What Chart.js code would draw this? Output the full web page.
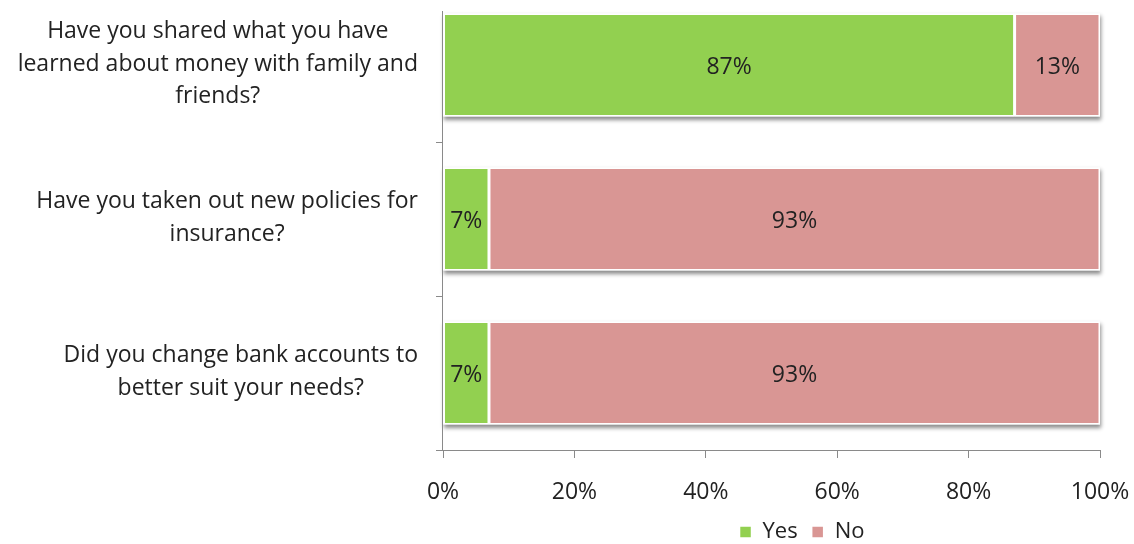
<!DOCTYPE html>
<html>
<head>
<meta charset="utf-8">
<script src="https://cdn.jsdelivr.net/npm/chart.js@4.4.1/dist/chart.umd.min.js"></script>
<style>
  html, body { margin: 0; padding: 0; background: #fff; overflow: hidden; }
  #wrap { position: absolute; left: 0; top: -12px; width: 1134px; height: 565px; }
</style>
</head>
<body>
<div id="wrap"><canvas id="surveyChart"></canvas></div>
<script>
const questions = [
    ['Have you shared what you have', 'learned about money with family and', 'friends?'],
    ['Have you taken out new policies for', 'insurance?'],
    ['Did you change bank accounts to', 'better suit your needs?']
];
const yesValues = [87, 7, 7];
const noValues = [13, 93, 93];
const xTicks = [0, 20, 40, 60, 80, 100];

const axisGray = '#8a8a8a';
const textColor = '#222';
const mainFont = '23px "Open Sans", sans-serif';
const legendShift = 252; // legend sits under the plot, not the page centre

Chart.defaults.font.family = '"Open Sans", sans-serif';
Chart.defaults.font.size = 23;
Chart.defaults.color = textColor;

// soft shadow under each whole bar
const barShadow = {
    id: 'barShadow',
    beforeDatasetsDraw(chart) {
        const ctx = chart.ctx;
        const xs = chart.scales.x;
        ctx.save();
        ctx.shadowColor = 'rgba(0, 0, 0, 0.45)';
        ctx.shadowBlur = 4;
        ctx.shadowOffsetX = 1;
        ctx.shadowOffsetY = 3;
        ctx.fillStyle = '#fff';
        chart.getDatasetMeta(0).data.forEach((bar, i) => {
            const { y, height } = bar.getProps(['y', 'height'], true);
            const x0 = xs.getPixelForValue(0);
            const x1 = xs.getPixelForValue(yesValues[i] + noValues[i]);
            ctx.fillRect(x0, y - height / 2, x1 - x0, height);
        });
        ctx.restore();
    }
};

// value labels in the middle of each segment
const barLabels = {
    id: 'barLabels',
    afterDatasetsDraw(chart) {
        const ctx = chart.ctx;
        ctx.save();
        ctx.font = mainFont;
        ctx.fillStyle = textColor;
        ctx.textAlign = 'center';
        ctx.textBaseline = 'middle';
        chart.data.datasets.forEach((ds, i) => {
            chart.getDatasetMeta(i).data.forEach((bar, j) => {
                const p = bar.getCenterPoint();
                ctx.fillText(ds.data[j] + '%', p.x, p.y + 2);
            });
        });
        ctx.restore();
    }
};

// category labels: each block right-aligned to the axis, lines centred inside the block
const questionLabels = {
    id: 'questionLabels',
    afterDraw(chart) {
        const ctx = chart.ctx;
        const ys = chart.scales.y;
        const right = chart.chartArea.left - 25;
        ctx.save();
        ctx.font = mainFont;
        ctx.fillStyle = textColor;
        ctx.textAlign = 'center';
        ctx.textBaseline = 'middle';
        questions.forEach((lines, i) => {
            const yc = ys.getPixelForTick(i) - 1;
            const widest = Math.max(...lines.map(l => ctx.measureText(l).width));
            const cx = right - widest / 2;
            lines.forEach((line, k) => {
                ctx.fillText(line, cx, yc + (k - (lines.length - 1) / 2) * 32.5);
            });
        });
        ctx.restore();
    }
};

// vertical axis line (plot top is cropped in the original)
const yAxisLine = {
    id: 'yAxisLine',
    afterDatasetsDraw(chart) {
        const { ctx, chartArea } = chart;
        ctx.save();
        ctx.strokeStyle = axisGray;
        ctx.lineWidth = 1;
        ctx.beginPath();
        ctx.moveTo(chartArea.left - 0.5, chartArea.top + 23);
        ctx.lineTo(chartArea.left - 0.5, chartArea.bottom);
        ctx.stroke();
        ctx.restore();
    }
};

const moveLegend = {
    id: 'moveLegend',
    afterLayout(chart) {
        chart.legend.left += legendShift;
        chart.legend.right += legendShift;
    }
};

const ctx = document.getElementById('surveyChart').getContext('2d');
new Chart(ctx, {
    type: 'bar',
    data: {
        labels: questions,
        datasets: [{
            label: 'Yes',
            data: yesValues,
            backgroundColor: '#92D050',
            borderColor: '#ffffff',
            borderWidth: 1.5,
            borderSkipped: false
        }, {
            label: 'No',
            data: noValues,
            backgroundColor: '#D99694',
            borderColor: '#ffffff',
            borderWidth: 1.5,
            borderSkipped: false
        }]
    },
    options: {
        indexAxis: 'y',
        responsive: true,
        maintainAspectRatio: false,
        animation: false,
        layout: { padding: { top: 0, right: 34, left: 0, bottom: 0 } },
        datasets: { bar: { barPercentage: 0.67, categoryPercentage: 1 } },
        scales: {
            x: {
                stacked: true,
                min: 0,
                max: 100,
                afterBuildTicks: scale => { scale.ticks = xTicks.map(v => ({ value: v })); },
                afterFit: scale => {
                    scale.height = 57;
                    scale.paddingLeft = 0;
                    scale.paddingRight = 0;
                },
                ticks: { callback: v => v + '%', padding: 21, color: textColor },
                grid: { drawOnChartArea: false, tickLength: 8, color: axisGray },
                border: { color: axisGray }
            },
            y: {
                stacked: true,
                afterFit: scale => {
                    scale.width = 443;
                    scale.paddingTop = 0;
                    scale.paddingBottom = 0;
                },
                ticks: { display: false },
                grid: { drawOnChartArea: false, offset: true, tickLength: 7, color: axisGray },
                border: { display: false }
            }
        },
        plugins: {
            legend: {
                position: 'bottom',
                labels: { boxWidth: 12, boxHeight: 12, padding: 14, color: textColor, font: { size: 22 } }
            },
            tooltip: { enabled: false }
        }
    },
    plugins: [barShadow, barLabels, questionLabels, yAxisLine, moveLegend]
});
</script>
</body>
</html>
